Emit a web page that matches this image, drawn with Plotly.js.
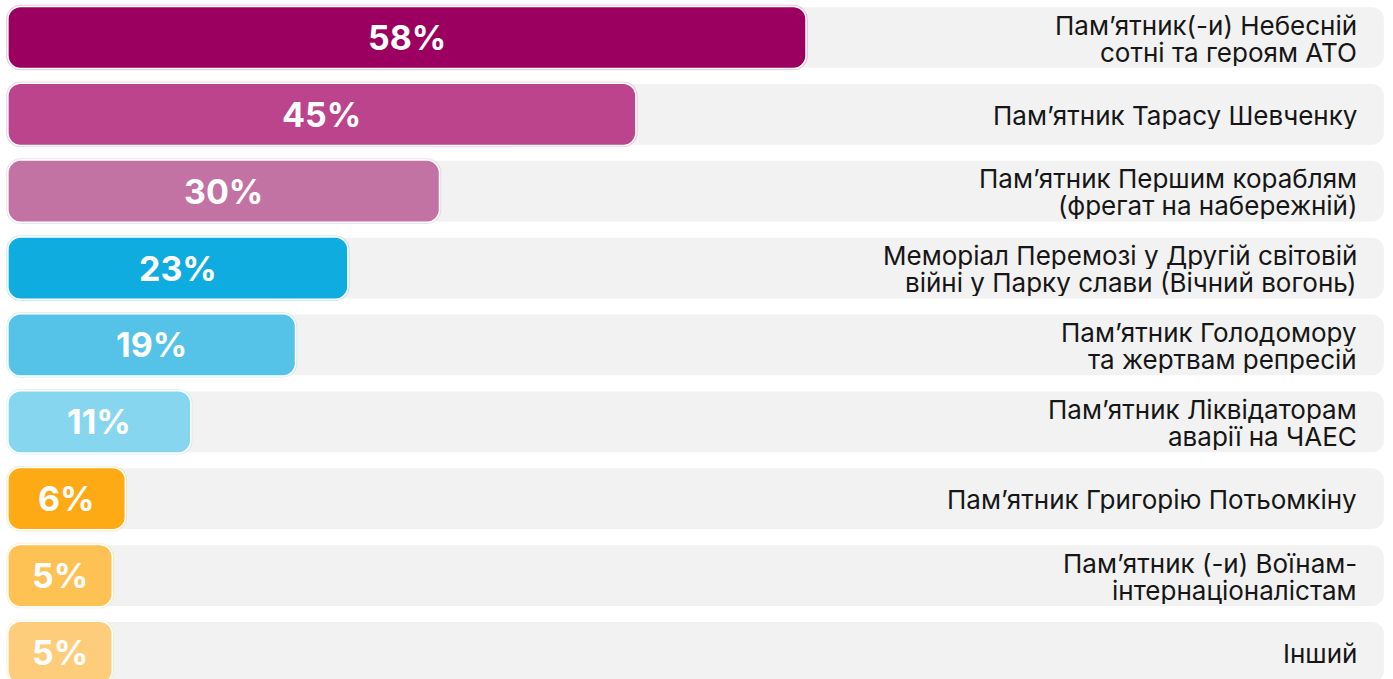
<!DOCTYPE html>
<html>
<head>
<meta charset="utf-8">
<script src="https://cdn.plot.ly/plotly-3.0.1.min.js"></script>
<style>html,body{margin:0;padding:0;background:#fff;}#chart{width:1393px;height:679px;}</style>
</head>
<body>
<div id="chart"></div>
<script>
// ---- data ----
const categories = [
  "Пам’ятник(-и) Небесній\nсотні та героям АТО",
  "Пам’ятник Тарасу Шевченку",
  "Пам’ятник Першим кораблям\n(фрегат на набережній)",
  "Меморіал Перемозі у Другій світовій\nвійні у Парку слави (Вічний вогонь)",
  "Пам’ятник Голодомору\nта жертвам репресій",
  "Пам’ятник Ліквідаторам\nаварії на ЧАЕС",
  "Пам’ятник Григорію Потьомкіну",
  "Пам’ятник (-и) Воїнам-\nінтернаціоналістам",
  "Інший"
];
const values = [58, 45, 30, 23, 19, 11, 6, 5, 5];
const valueLabels = ["58%", "45%", "30%", "23%", "19%", "11%", "6%", "5%", "5%"];
const colors = ["#9b0060", "#bb448c", "#c372a4", "#0eacdf", "#55c2e8", "#86d6f0", "#fdaa14", "#fec153", "#fecd7b"];
const ringColors = ["rgba(155,0,96,0.22)", "rgba(187,68,140,0.22)", "rgba(195,114,164,0.22)", "rgba(14,172,223,0.22)", "rgba(85,194,232,0.22)", "rgba(134,214,240,0.22)", "rgba(253,170,20,0.22)", "rgba(254,193,83,0.22)", "rgba(254,205,123,0.22)"];

// ---- styling constants ----
const PAD = 2.86;       // bars start slightly left of zero
const BG_END = 102.2;   // end of grey track
const BAR_W = 0.79;
const RADIUS = 12;
const keys = categories.map(c => c.replace(/\n/g, " "));

function bar(ends, marker) {
  return {
    type: "bar", orientation: "h", y: keys,
    base: ends.map(() => -PAD), x: ends.map(e => e + PAD),
    width: BAR_W, hoverinfo: "skip", marker: marker
  };
}

const traces = [
  bar(keys.map(() => BG_END), {color: "#f2f2f2", cornerradius: RADIUS, line: {width: 0}}),
  bar(values, {color: colors, cornerradius: RADIUS, line: {color: ringColors, width: 5}}),
  bar(values, {color: colors, cornerradius: RADIUS, line: {color: "#ffffff", width: 3}}),
  bar(values, {color: colors, cornerradius: RADIUS, line: {width: 0}})
];

const LINE_H = 27;
const annotations = [];
values.forEach((v, i) => {
  annotations.push({
    x: (v - PAD) / 2, y: keys[i], xref: "x", yref: "y",
    text: valueLabels[i], showarrow: false,
    font: {family: "Inter, sans-serif", size: 34, weight: 700, color: "#ffffff"},
    xanchor: "center", yanchor: "middle"
  });
  const lines = categories[i].split("\n");
  const n = lines.length;
  lines.forEach((ln, j) => {
    annotations.push({
      x: 100.2, y: keys[i], xref: "x", yref: "y",
      text: ln, showarrow: false,
      font: {family: "Inter, sans-serif", size: 26, color: "#161616"},
      xanchor: "right", yanchor: "middle",
      height: LINE_H, borderpad: 0, valign: "middle",
      yshift: ((n - 1) / 2 - j) * LINE_H - 1
    });
  });
});

const layout = {
  width: 1393, height: 679,
  margin: {l: 0, r: 0, t: 0, b: 0, pad: 0},
  paper_bgcolor: "#ffffff", plot_bgcolor: "#ffffff",
  barmode: "overlay", showlegend: false,
  xaxis: {range: [-3.52, 102.9], visible: false, fixedrange: true},
  yaxis: {type: "category", range: [8.346, -0.488], visible: false, fixedrange: true},
  annotations: annotations
};

Plotly.newPlot("chart", traces, layout, {displayModeBar: false, staticPlot: true});
</script>
</body>
</html>
